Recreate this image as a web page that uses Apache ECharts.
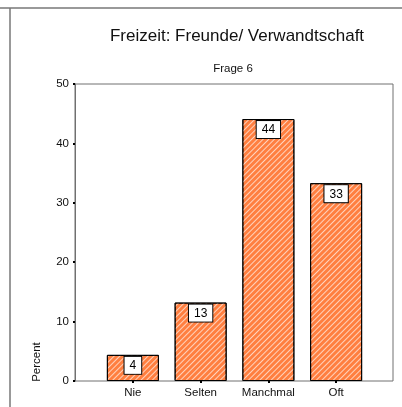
<!DOCTYPE html>
<html>
<head>
<meta charset="utf-8">
<script src="https://cdn.jsdelivr.net/npm/echarts@6/dist/echarts.min.js"></script>
<style>
  html, body { margin: 0; padding: 0; background: #fff; }
  #main { width: 402px; height: 407px; }
</style>
</head>
<body>
<div id="main"></div>
<script>
const categories = ["Nie", "Selten", "Manchmal", "Oft"];
const percent = [4.4, 13.2, 44.1, 33.3];
const yTicks = [0, 10, 20, 30, 40, 50];

const chart = echarts.init(document.getElementById("main"));
const font = "Arial, 'Liberation Sans', sans-serif";

const option = {
    animation: false,
    title: [
        {
            text: "Freizeit: Freunde/ Verwandtschaft",
            left: 232, top: 23, textAlign: "center",
            textStyle: { fontFamily: font, fontSize: 17, fontWeight: "normal", color: "#111" },
        },
        {
            text: "Frage 6",
            left: 228, top: 58, textAlign: "center",
            textStyle: { fontFamily: font, fontSize: 11.5, fontWeight: "normal", color: "#111" },
        },
    ],
    grid: [
        { left: 75, top: 84, width: 318, height: 297, show: true, borderColor: "#707070", borderWidth: 1 },
        { left: 99, top: 84, width: 271, height: 297 },
    ],
    xAxis: [
        { gridIndex: 0, type: "value", show: false },
        {
            gridIndex: 1,
            type: "category",
            data: categories,
            axisLine: { show: false },
            axisTick: { show: true, alignWithLabel: true, length: 2, lineStyle: { color: "#000", width: 2 } },
            axisLabel: { interval: 0, fontFamily: font, fontSize: 11.5, color: "#111", margin: 6 },
        },
    ],
    yAxis: [
        {
            gridIndex: 0,
            type: "value",
            min: yTicks[0],
            max: yTicks[yTicks.length - 1],
            interval: 10,
            axisLine: { show: true, lineStyle: { color: "#707070" } },
            axisTick: { show: true, length: 2, lineStyle: { color: "#000", width: 2 } },
            axisLabel: { fontFamily: font, fontSize: 11.5, color: "#111", margin: 6 },
            splitLine: { show: false },
        },
        { gridIndex: 1, type: "value", min: 0, max: 50, show: false },
    ],
    graphic: [
        { type: "line", shape: { x1: 0, y1: 8, x2: 402, y2: 8 }, style: { stroke: "#777", lineWidth: 1.5 } },
        { type: "line", shape: { x1: 10, y1: 8, x2: 10, y2: 407 }, style: { stroke: "#777", lineWidth: 1.5 } },
        {
            type: "text", x: 37, y: 362, rotation: Math.PI / 2,
            style: { text: "Percent", font: "11.5px " + font, fill: "#111", textAlign: "center", textVerticalAlign: "middle" },
        },
    ],
    series: [
        {
            type: "bar",
            xAxisIndex: 1,
            yAxisIndex: 1,
            data: percent,
            barWidth: 52,
            itemStyle: {
                color: "#ff7f40",
                borderColor: "#000",
                borderWidth: 1,
                decal: {
                    symbol: "rect",
                    color: "rgba(255,255,255,0.65)",
                    dashArrayX: [1, 0],
                    dashArrayY: [1, 3],
                    rotation: -Math.PI / 4,
                },
            },
            label: {
                show: true,
                position: "insideTop",
                distance: 2,
                formatter: (p) => Math.round(p.value),
                fontFamily: font,
                fontSize: 12,
                color: "#000",
                backgroundColor: "#fff",
                borderColor: "#000",
                borderWidth: 1,
                padding: [3, 5, 2, 5],
            },
        },
    ],
};

chart.setOption(option);
</script>
</body>
</html>
